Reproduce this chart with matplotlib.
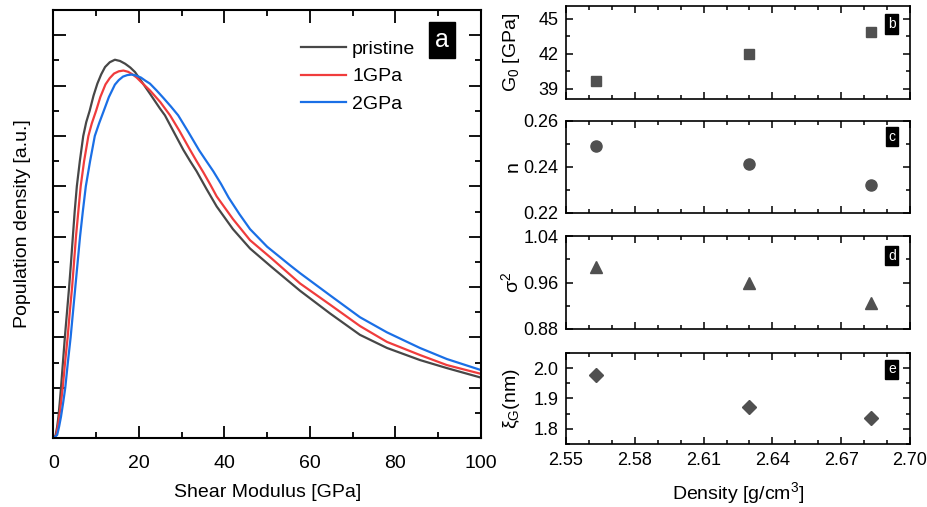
import matplotlib.pyplot as plt
from matplotlib.ticker import MultipleLocator

plt.rcParams['font.family'] = ['Liberation Sans', 'DejaVu Sans']
plt.rcParams['mathtext.fontset'] = 'custom'
plt.rcParams['mathtext.rm'] = 'Liberation Sans'
plt.rcParams['mathtext.it'] = 'Liberation Sans'

# panel a: population density curves (arbitrary units)
x_pristine = [0, 0.55, 0.9, 1.2, 1.5, 1.8, 2.25, 2.7, 3.2, 3.7, 4.15, 4.55, 5.0, 5.5, 6.2, 7.0,
              7.7, 8.5, 9.4, 10.3, 11.2, 12.1, 13.2, 14.4, 15.6, 16.8, 18.0, 19.1, 20.7, 22.6,
              24.9, 26.1, 28.2, 30.4, 32.0, 33.5, 35.8, 38.2, 42.0, 46.0, 51.0, 57.7, 64.7,
              71.7, 78.0, 85.7, 92.0, 100]
y_pristine = [0, 0.12, 0.45, 0.85, 1.4, 2.0, 3.0, 4.0, 5.0, 6.0, 7.0, 7.95, 9.0, 10.0, 11.0,
              12.0, 12.55, 13.0, 13.6, 14.08, 14.45, 14.74, 14.93, 15.03, 14.98, 14.87, 14.72,
              14.54, 14.15, 13.68, 13.1, 12.82, 12.15, 11.45, 11.0, 10.6, 9.9, 9.2, 8.3, 7.53,
              6.8, 5.85, 4.95, 4.1, 3.58, 3.1, 2.78, 2.4]

x_1gpa = [0, 0.7, 1.05, 1.4, 1.8, 2.2, 2.75, 3.35, 3.85, 4.4, 4.85, 5.3, 5.85, 6.4, 7.2, 8.2,
          9.0, 10.0, 11.0, 12.2, 13.2, 14.2, 15.3, 16.4, 17.5, 18.5, 19.5, 20.5, 22.6, 25.0,
          27.3, 29.5, 31.8, 33.5, 35.1, 36.7, 38.2, 42.0, 46.0, 51.0, 57.7, 64.7, 71.7, 78.0,
          85.7, 92.0, 100]
y_1gpa = [0, 0.12, 0.45, 0.85, 1.4, 2.0, 3.0, 4.0, 5.0, 6.0, 7.0, 8.0, 9.0, 10.0, 11.0, 12.0,
          12.5, 13.0, 13.55, 14.05, 14.3, 14.48, 14.57, 14.6, 14.55, 14.45, 14.32, 14.15, 13.81,
          13.35, 12.82, 12.2, 11.5, 11.0, 10.55, 10.07, 9.6, 8.7, 7.86, 7.14, 6.14, 5.3, 4.45,
          3.82, 3.3, 2.9, 2.55]

x_2gpa = [0, 0.9, 1.35, 1.8, 2.3, 2.8, 3.4, 4.05, 4.6, 5.15, 5.7, 6.25, 6.9, 7.6, 8.6, 9.7,
          10.7, 11.8, 13.0, 14.4, 15.3, 16.3, 17.3, 18.3, 19.4, 20.5, 21.5, 22.6, 24.2, 25.8,
          27.5, 29.2, 31.6, 34.1, 35.8, 37.4, 39.2, 41.0, 43.5, 46.0, 50.0, 55.3, 57.7, 64.7,
          71.7, 78.0, 85.7, 92.0, 100]
y_2gpa = [0, 0.12, 0.45, 0.85, 1.4, 2.0, 3.0, 4.0, 5.0, 6.0, 7.0, 8.0, 9.0, 10.0, 11.0, 12.0,
          12.5, 13.0, 13.55, 14.04, 14.22, 14.36, 14.42, 14.44, 14.4, 14.32, 14.2, 14.08, 13.8,
          13.5, 13.17, 12.82, 12.15, 11.43, 11.0, 10.6, 10.1, 9.55, 8.9, 8.3, 7.6, 6.87, 6.55,
          5.67, 4.8, 4.2, 3.58, 3.14, 2.7]

# panels b-e: fit parameters vs density
density = [2.563, 2.630, 2.683]
g0 = [39.63, 41.94, 43.85]
n_exp = [0.2493, 0.2413, 0.232]
sigma2 = [0.986, 0.959, 0.925]
xi_g = [1.979, 1.871, 1.836]

c_gray = '#474747'
c_red = '#f03c3c'
c_blue = '#1a6fe6'
c_mark = '#505050'

fig = plt.figure(figsize=(9.27, 5.07), dpi=100)

# ---- panel a
ax = fig.add_axes([0.0575, 0.136, 0.4614, 0.844])
ax.plot(x_pristine, y_pristine, color=c_gray, lw=1.6, label='pristine')
ax.plot(x_1gpa, y_1gpa, color=c_red, lw=1.6, label='1GPa')
ax.plot(x_2gpa, y_2gpa, color=c_blue, lw=1.6, label='2GPa')
ax.set_xlim(0, 100)
ax.set_ylim(0, 17)
ax.xaxis.set_major_locator(MultipleLocator(20))
ax.xaxis.set_minor_locator(MultipleLocator(10))
ax.yaxis.set_major_locator(MultipleLocator(2))
ax.yaxis.set_minor_locator(MultipleLocator(1))
ax.tick_params(which='both', direction='in', top=True, right=True, width=1.3)
ax.tick_params(which='major', length=9, pad=12, labelsize=14)
ax.tick_params(which='minor', length=4.5)
ax.tick_params(axis='y', which='both', labelleft=False)
for s in ax.spines.values():
    s.set_linewidth(1.5)
ax.set_xlabel('Shear Modulus [GPa]', fontsize=14)
ax.set_ylabel('Population density [a.u.]', fontsize=14)
ax.xaxis.set_label_coords(0.5, -0.107)
ax.yaxis.set_label_coords(-0.052, 0.5)
ax.legend(loc='upper left', bbox_to_anchor=(0.578, 0.93), frameon=False, fontsize=14,
          handlelength=2.35, handletextpad=0.3, labelspacing=0.52, borderpad=0,
          borderaxespad=0)
ax.text(0.909, 0.93, 'a', transform=ax.transAxes, color='white', fontsize=18,
        ha='center', va='center',
        bbox=dict(boxstyle='square,pad=0.25', fc='black', ec='black'))

# ---- panels b-e
rect_x, rect_w = 0.6106, 0.3711
rows = [
    (0.8047, 0.1834, g0, 's', 7.2, 'G$_0$ [GPa]', (38.1, 46.1), 3, 1.5, 'b', 0.806),
    (0.5799, 0.1815, n_exp, 'o', 8.0, 'n', (0.22, 0.26), 0.02, 0.01, 'c', 0.83),
    (0.3511, 0.1834, sigma2, '^', 9.0, '$\\sigma^2$', (0.88, 1.04), 0.08, 0.04, 'd', 0.79),
    (0.1243, 0.1795, xi_g, 'D', 7.5, '$\\xi_G$(nm)', (1.75, 2.05), 0.1, 0.05, 'e', 0.82),
]
for i, (y0, h, vals, mk, ms, lab, ylim, maj, mnr, letter, ly) in enumerate(rows):
    axr = fig.add_axes([rect_x, y0, rect_w, h])
    axr.plot(density, vals, ls='none', marker=mk, ms=ms, color=c_mark, mec=c_mark)
    axr.set_xlim(2.55, 2.70)
    axr.set_ylim(*ylim)
    axr.xaxis.set_major_locator(MultipleLocator(0.03))
    axr.xaxis.set_minor_locator(MultipleLocator(0.01))
    axr.yaxis.set_major_locator(MultipleLocator(maj))
    axr.yaxis.set_minor_locator(MultipleLocator(mnr))
    axr.tick_params(which='both', direction='in', top=True, right=True, width=1.1)
    axr.tick_params(which='major', length=5, pad=5.5, labelsize=13)
    axr.tick_params(which='minor', length=3)
    for s in axr.spines.values():
        s.set_linewidth(1.2)
    if i == 0:
        axr.yaxis.set_major_formatter(lambda v, p: f'{v:.0f}')
    elif i == 3:
        axr.yaxis.set_major_formatter(lambda v, p: f'{v:.1f}')
    else:
        axr.yaxis.set_major_formatter(lambda v, p: f'{v:.2f}')
    if i < 3:
        axr.tick_params(axis='x', labelbottom=False)
    else:
        axr.xaxis.set_major_formatter(lambda v, p: f'{v:.2f}')
        axr.set_xlabel('Density [g/cm$^3$]', fontsize=14)
        axr.xaxis.set_label_coords(0.5, -0.40)
    axr.set_ylabel(lab, fontsize=14)
    axr.yaxis.set_label_coords(-0.128, 0.5)
    axr.text(0.947, ly, letter, transform=axr.transAxes, color='white', fontsize=10,
             ha='center', va='center',
             bbox=dict(boxstyle='square,pad=0.2', fc='black', ec='black'))

fig.savefig('out.png', dpi=100)
